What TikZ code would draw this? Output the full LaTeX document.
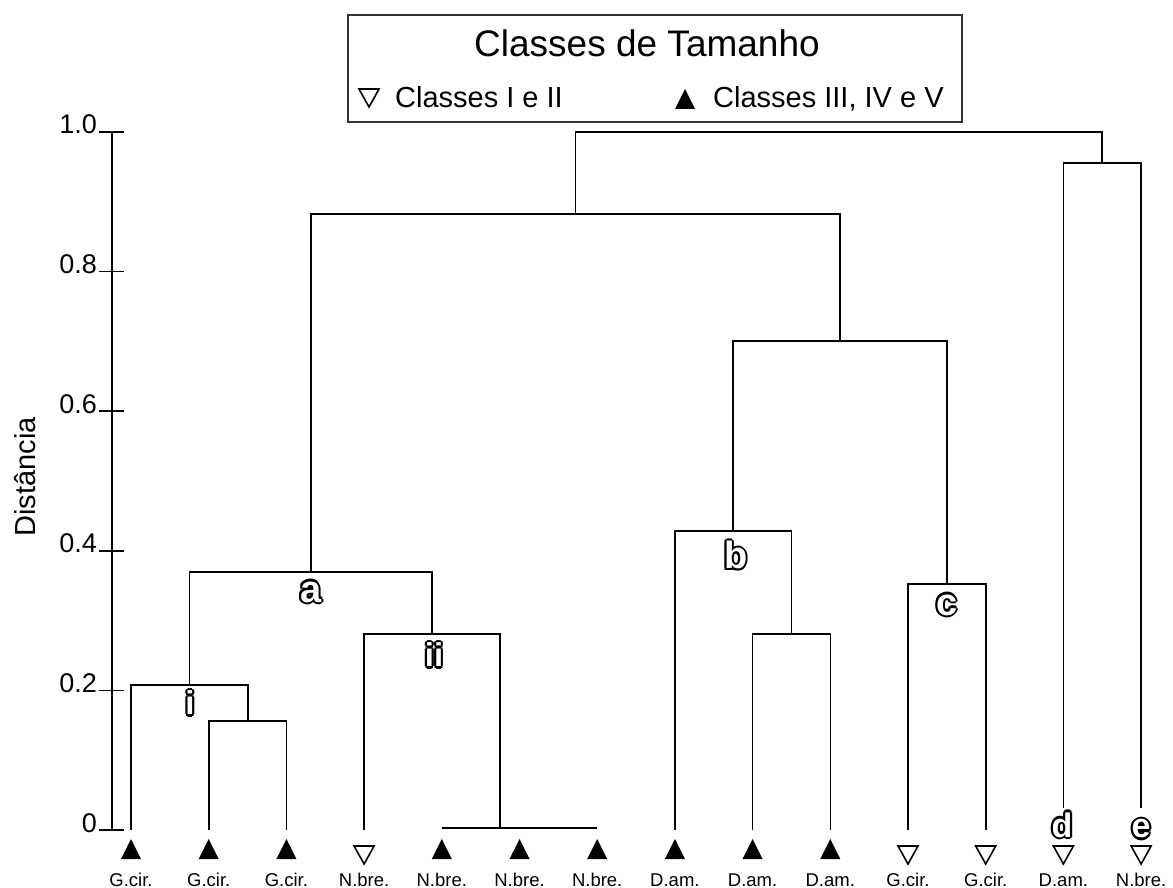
\documentclass[tikz,border=0pt]{standalone}
\usepackage{fontspec}
\setmainfont{Liberation Sans}
\usetikzlibrary{positioning,calc}

% outlined group letter: black copies round a white one
\newcommand{\grpletter}[3][36]{%
  \foreach \ang in {0,45,...,315}
    \node[grp, font=\bfseries\fontsize{#1}{#1}\selectfont, text=black, shift={(\ang:2.2)}] at (#2) {#3};
  \node[grp, font=\bfseries\fontsize{#1}{#1}\selectfont, text=white] at (#2) {#3};
}

\begin{document}
\begin{tikzpicture}[x=1pt,y=-1pt,
  link/.style={line width=1.6pt},
  grp/.style={inner sep=0pt},
  leaflbl/.style={font=\fontsize{18.5}{20}\selectfont, inner sep=0pt, anchor=base},
  ticklbl/.style={font=\fontsize{27}{30}\selectfont, inner sep=0pt, anchor=base east},
  fulltri/.pic={\fill (-10,10) -- (10,10) -- (0,-10) -- cycle;},
  opentri/.pic={\draw[line width=1.6pt, line join=miter] (-10,-9) -- (10,-9) -- (0,9) -- cycle;}
]
\useasboundingbox (0,0) rectangle (1173,888);

% legend
\draw[line width=1.4pt, black!80] (348,15) rectangle (962,122);
\node[inner sep=0pt, anchor=base, font=\fontsize{37}{40}\selectfont] (title) at (647,57) {Classes de Tamanho};
\pic at (369,98) {opentri};
\node[inner sep=0pt, anchor=base west, font=\fontsize{29}{32}\selectfont] (keysmall) at (395,108) {Classes I e II};
\pic at (685,99) {fulltri};
\node[inner sep=0pt, anchor=base west, font=\fontsize{29}{32}\selectfont] (keybig) at (713,108) {Classes III, IV e V};

% axis
\draw[link] (112,132) -- (112,830);
\foreach \v/\t in {0/0, 1/0.2, 2/0.4, 3/0.6, 4/0.8, 5/1.0} {
  \draw[link] (99,{830-139.6*\v}) -- (124,{830-139.6*\v});
  \node[ticklbl] at (97,{832-139.6*\v}) {\t};
}
\node[rotate=90, inner sep=0pt, font=\fontsize{29}{32}\selectfont] (ylab) at (25,477) {Distância};

% leaves
\foreach \k in {0,...,13}
  \coordinate (L\k) at ({131+77.7*\k},830);
\foreach \k in {0,1,2,4,5,6,7,8,9}
  \pic at ($(L\k)+(0,19)$) {fulltri};
\foreach \k in {3,10,11,12,13}
  \pic at ($(L\k)+(0,25)$) {opentri};
\foreach \k/\nm in {0/G.cir., 1/G.cir., 2/G.cir., 3/N.bre., 4/N.bre., 5/N.bre., 6/N.bre.,
                    7/D.am., 8/D.am., 9/D.am., 10/G.cir., 11/G.cir., 12/D.am., 13/N.bre.}
  \node[leaflbl] (lab\k) at ($(L\k)+(0,56)$) {\nm};

% junctions
\coordinate (J12)  at (248,721);
\coordinate (Ji)   at (189.5,685);
\coordinate (J456) at (500,828);
\coordinate (Jii)  at (432,634);
\coordinate (Ja)   at (310.8,572);
\coordinate (J89)  at (791.5,634);
\coordinate (Jb)   at (733.2,531);
\coordinate (Jc)   at (946.9,584);
\coordinate (Jbc)  at (840,341);
\coordinate (Jabc) at (575.4,214);
\coordinate (D12)  at (1063.4,808);
\coordinate (D13)  at (1141.1,808);
\coordinate (Jde)  at (1102.2,163);
\coordinate (Jtop) at (838.8,132);

\draw[link] (L1) |- (J12) -| (L2);
\draw[link] (L0) |- (Ji) -| (J12);
\draw[link] (L4 |- J456) -- (L6 |- J456);
\draw[link] (L3) |- (Jii) -| (J456);
\draw[link] (Ji) |- (Ja) -| (Jii);
\draw[link] (L8) |- (J89) -| (L9);
\draw[link] (L7) |- (Jb) -| (J89);
\draw[link] (L10) |- (Jc) -| (L11);
\draw[link] (Jb) |- (Jbc) -| (Jc);
\draw[link] (Ja) |- (Jabc) -| (Jbc);
\draw[link] (D12) |- (Jde) -| (D13);
\draw[link] (Jabc) |- (Jtop) -| (Jde);

% group letters
\grpletter[38]{311,592}{a}
\grpletter[33]{190,703}{i}
\grpletter[33]{434,655}{ii}
\grpletter[38]{736,555}{b}
\grpletter[38]{947,605}{c}
\grpletter[34]{1062,825}{d}
\grpletter[34]{1141,829}{e}
\end{tikzpicture}
\end{document}
